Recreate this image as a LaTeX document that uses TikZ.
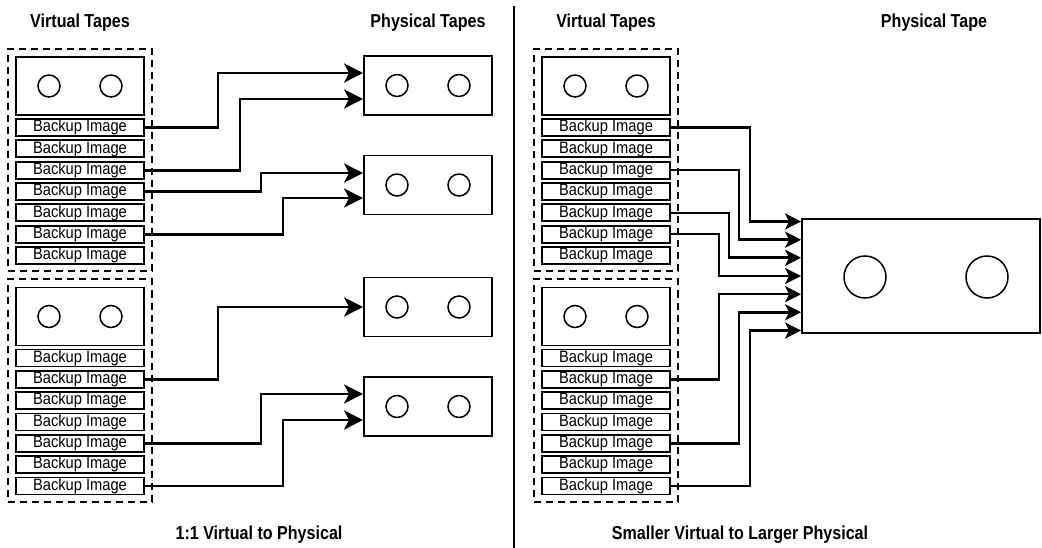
\documentclass[tikz,border=0pt]{standalone}
\usepackage{fontspec}
\setmainfont{Liberation Sans}
\newfontfamily\hdfont[FakeStretch=0.86]{Liberation Sans}
\newfontfamily\bifont[FakeStretch=0.89]{Liberation Sans}
\usetikzlibrary{arrows.meta}
\tikzset{
  tapebox/.style={draw, line width=1.8pt, minimum width=128pt, minimum height=58pt, inner sep=0pt},
  imgbox/.style={draw, line width=1.8pt, minimum width=128pt, minimum height=17pt, inner sep=0pt,
    font=\bifont\fontsize{16.5}{16.5}\selectfont},
  reel/.style={draw, circle, line width=1.5pt, minimum size=22pt, inner sep=0pt},
  bigreel/.style={draw, circle, line width=1.5pt, minimum size=42pt, inner sep=0pt},
  groupbox/.style={draw, dash pattern=on 7pt off 5pt, line width=2pt, inner sep=0pt},
  conn/.style={line width=2.9pt, -{Stealth[length=19pt,width=19pt,inset=5pt]}},
  connr/.style={line width=2.6pt, -{Stealth[length=16pt,width=16pt,inset=4pt]}},
  hd/.style={font=\hdfont\bfseries\fontsize{18.7}{20}\selectfont, anchor=base, inner sep=0pt},
}
\newcommand\vgroup[3]{% prefix, x centre, y offset
  \node[groupbox, minimum width=144pt, minimum height=222pt] (#1g) at (#2, 160+#3) {};
  \node[tapebox] (#1t) at (#2, 86+#3) {};
  \node[reel] (#1c1) at (#2-31, 86+#3) {};
  \node[reel] (#1c2) at (#2+31, 86+#3) {};
  \foreach \i in {1,...,7}{
    \node[imgbox] (#1r\i) at (#2, 106.17+21.33*\i+#3) {Backup Image};
  }
}
\begin{document}
\begin{tikzpicture}[x=1pt,y=-1pt]
\useasboundingbox (0,0) rectangle (1042,548);

% headers and captions
\node[hd] (h1) at (80,28) {Virtual Tapes};
\node[hd] (h2) at (428,28) {Physical Tapes};
\node[hd] (h3) at (606,28) {Virtual Tapes};
\node[hd] (h4) at (934,28) {Physical Tape};
\node[hd] (cap1) at (259,539) {1:1 Virtual to Physical};
\node[hd] (cap2) at (740,539) {Smaller Virtual to Larger Physical};

% separator
\draw[line width=2pt] (514,6) -- (514,548);

% virtual tape groups
\vgroup{a}{80}{0}
\vgroup{b}{80}{230.5}
\vgroup{c}{606}{0}
\vgroup{d}{606}{230.5}

% physical tapes (left)
\foreach \n/\y in {p1/85.5, p2/185, p3/307, p4/406.5}{
  \node[tapebox, minimum height=59pt] (\n) at (428,\y) {};
  \node[reel] (\n a) at (397,\y) {};
  \node[reel] (\n b) at (459,\y) {};
}

% big physical tape (right)
\node[draw, line width=1.8pt, minimum width=238pt, minimum height=114pt, inner sep=0pt] (P) at (921,276) {};
\node[bigreel] (Pa) at (865,277) {};
\node[bigreel] (Pb) at (987,277) {};

% left connectors
\draw[conn] (ar1.east) -- (218,0 |- ar1.east) |- ([yshift=12.5pt]p1.west);
\draw[conn] (ar3.east) -- (240,0 |- ar3.east) |- ([yshift=-13.5pt]p1.west);
\draw[conn] (ar4.east) -- (261,0 |- ar4.east) |- ([yshift=12pt]p2.west);
\draw[conn] (ar6.east) -- (283,0 |- ar6.east) |- ([yshift=-13pt]p2.west);
\draw[conn] (br2.east) -- (218,0 |- br2.east) |- (p3.west);
\draw[conn] (br5.east) -- (261,0 |- br5.east) |- ([yshift=12.5pt]p4.west);
\draw[conn] (br7.east) -- (283,0 |- br7.east) |- ([yshift=-13.5pt]p4.west);

% right connectors
\draw[connr] (cr1.east) -- (750,0 |- cr1.east) |- ([yshift=54.5pt]P.west);
\draw[connr] (cr3.east) -- (739,0 |- cr3.east) |- ([yshift=36.3pt]P.west);
\draw[connr] (cr5.east) -- (729,0 |- cr5.east) |- ([yshift=18.2pt]P.west);
\draw[connr] (cr6.east) -- (719,0 |- cr6.east) |- (P.west);
\draw[connr] (dr2.east) -- (719,0 |- dr2.east) |- ([yshift=-18.2pt]P.west);
\draw[connr] (dr5.east) -- (739,0 |- dr5.east) |- ([yshift=-36.3pt]P.west);
\draw[connr] (dr7.east) -- (750,0 |- dr7.east) |- ([yshift=-54.5pt]P.west);
\end{tikzpicture}
\end{document}
